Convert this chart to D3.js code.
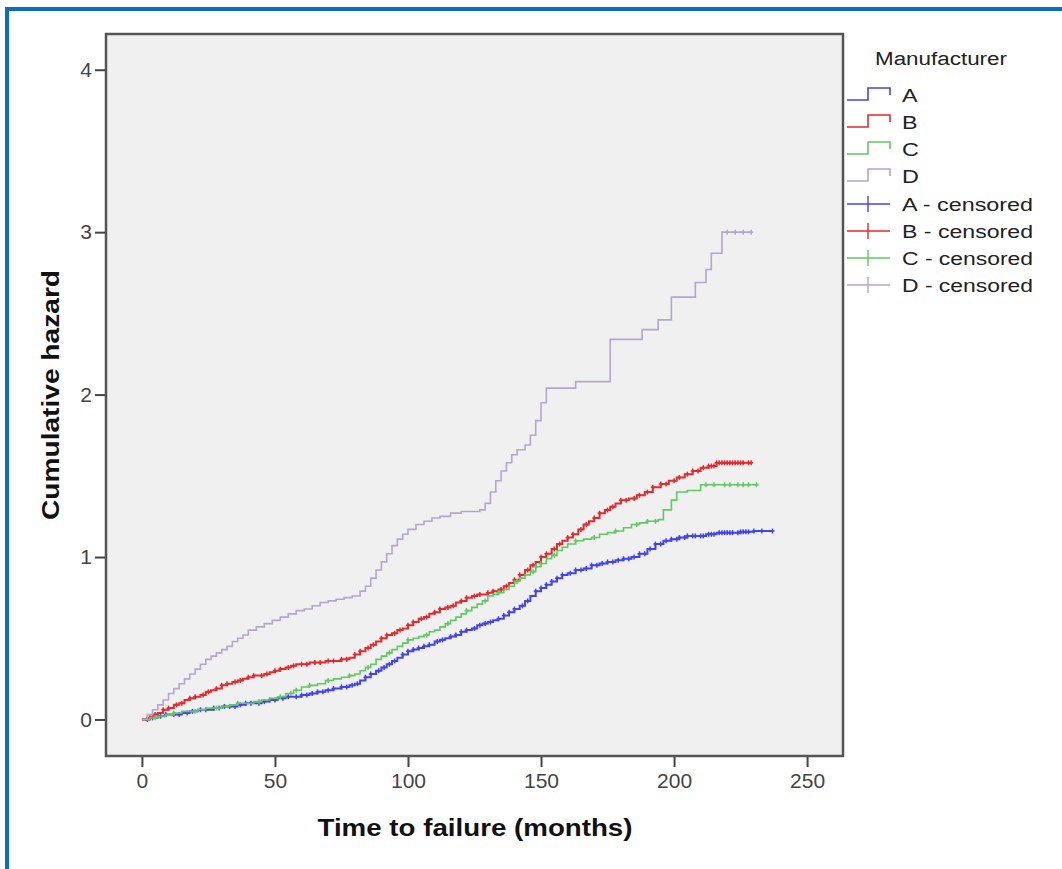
<!DOCTYPE html>
<html>
<head>
<meta charset="utf-8">
<script src="https://cdn.jsdelivr.net/npm/d3@7"></script>
<style>
  body { margin: 0; background: #fff; }
  svg { display: block; font-family: "Liberation Sans", Arial, sans-serif; }
</style>
</head>
<body>
<svg width="1062" height="869"></svg>
<script>
  // manufacturers and colours
  var groups = ["A", "B", "C", "D"];
  var colors = ["#4343ee", "#e32a2e", "#62c862", "#b3a6cf"];

  // step points: time (months) / cumulative hazard
  var timeA = [0,3,6,9,12,15,18,21,24,27,30,33,36,39,42,45,48,51,54,57,60,63,66,69,72,75,78,80,82,84,86,88,90,92,94,96,98,100,102,104,106,108,110,112,114,116,118,120,122,124,126,128,130,132,134,136,138,140,142,144,146,148,150,152,154,156,158,160,163,166,169,172,175,178,181,184,187,190,193,196,199,202,205,208,212,216,220,225,230,237];
  var hazA = [0,0.01,0.02,0.03,0.03,0.04,0.05,0.06,0.06,0.07,0.08,0.08,0.09,0.10,0.10,0.11,0.12,0.13,0.14,0.14,0.15,0.16,0.17,0.18,0.19,0.20,0.21,0.22,0.24,0.26,0.28,0.30,0.32,0.34,0.36,0.38,0.40,0.42,0.43,0.44,0.45,0.46,0.48,0.49,0.50,0.51,0.52,0.54,0.55,0.56,0.58,0.59,0.60,0.61,0.62,0.64,0.66,0.68,0.70,0.73,0.76,0.79,0.81,0.83,0.85,0.87,0.89,0.90,0.92,0.93,0.95,0.96,0.97,0.98,0.99,1.00,1.02,1.05,1.08,1.10,1.11,1.12,1.13,1.13,1.14,1.15,1.15,1.155,1.16,1.16];

  var timeB = [0,2,4,6,8,10,12,14,16,18,20,22,24,26,28,30,32,34,36,38,40,42,44,46,48,50,52,54,56,58,60,63,66,69,72,75,78,80,82,84,86,88,90,92,94,96,98,100,102,104,106,108,110,112,114,116,118,120,122,124,126,128,130,132,134,136,138,140,142,144,146,148,150,152,154,156,158,160,162,164,166,168,170,172,174,176,178,180,183,186,189,192,195,198,201,204,207,210,213,216,229];
  var hazB = [0,0.01,0.03,0.04,0.06,0.07,0.09,0.10,0.12,0.13,0.14,0.15,0.17,0.18,0.19,0.21,0.22,0.23,0.24,0.25,0.26,0.27,0.27,0.28,0.29,0.30,0.31,0.32,0.33,0.34,0.34,0.35,0.35,0.36,0.36,0.37,0.38,0.40,0.42,0.44,0.46,0.48,0.50,0.52,0.53,0.55,0.56,0.58,0.60,0.62,0.63,0.65,0.66,0.68,0.69,0.70,0.72,0.73,0.75,0.76,0.77,0.77,0.78,0.79,0.80,0.82,0.84,0.86,0.89,0.92,0.95,0.97,1.00,1.02,1.05,1.08,1.10,1.12,1.14,1.17,1.20,1.22,1.24,1.27,1.29,1.31,1.33,1.35,1.36,1.38,1.40,1.43,1.45,1.47,1.49,1.51,1.53,1.55,1.56,1.58,1.58];

  var timeC = [0,3,6,9,12,15,18,21,24,27,30,33,36,39,42,45,48,51,54,57,60,63,66,69,72,75,78,80,82,84,86,88,90,92,94,96,98,100,102,104,106,108,110,112,114,116,118,120,122,124,126,128,130,132,134,136,138,140,142,144,146,148,150,152,154,156,158,160,163,166,169,172,175,178,181,184,187,190,194,196,199,201,205,210,231];
  var hazC = [0,0.01,0.02,0.03,0.04,0.05,0.05,0.06,0.07,0.07,0.08,0.09,0.10,0.10,0.11,0.12,0.13,0.14,0.16,0.18,0.20,0.21,0.22,0.24,0.25,0.26,0.27,0.28,0.30,0.32,0.34,0.37,0.39,0.41,0.43,0.45,0.47,0.49,0.50,0.51,0.52,0.54,0.55,0.57,0.59,0.61,0.63,0.65,0.67,0.69,0.71,0.73,0.76,0.77,0.78,0.80,0.82,0.85,0.87,0.89,0.91,0.94,0.96,0.99,1.01,1.04,1.06,1.08,1.10,1.11,1.12,1.14,1.15,1.16,1.18,1.20,1.21,1.22,1.23,1.29,1.35,1.40,1.41,1.445,1.445];

  var timeD = [0,2,4,6,8,10,12,14,16,18,20,22,24,26,28,30,32,34,36,38,40,43,46,49,52,55,58,61,64,67,70,73,76,79,82,84,86,88,90,92,94,96,98,100,103,106,109,112,116,120,127,129,131,133,135,137,139,141,144,146,148,150,152,163,176,188,194,199,208,212,214,218,229];
  var hazD = [0,0.03,0.06,0.09,0.12,0.16,0.19,0.22,0.25,0.28,0.31,0.34,0.37,0.39,0.41,0.43,0.45,0.48,0.50,0.52,0.55,0.57,0.59,0.61,0.63,0.65,0.67,0.68,0.70,0.72,0.73,0.74,0.75,0.76,0.79,0.82,0.87,0.92,0.97,1.02,1.07,1.11,1.14,1.17,1.20,1.22,1.24,1.25,1.27,1.28,1.29,1.33,1.40,1.47,1.53,1.58,1.63,1.66,1.69,1.75,1.84,1.95,2.04,2.08,2.34,2.40,2.46,2.60,2.69,2.77,2.87,3.00,3.00];

  // censored times
  var censA = [2,4,7,9,12,14,17,19,22,24,27,29,31,33,35,37,39,41,44,46,48,50,53,55,58,60,62,64,66,68,70,72,75,77,79,81,84,86,89,91,93,95,98,100,102,104,106,108,111,113,116,118,120,122,125,127,129,131,134,136,138,140,143,145,148,150,152,154,156,158,161,163,165,167,169,171,173,175,177,179,181,183,185,187,189,191,193,195,197,199,201,202,204,205,207,208,210,211,213,214,215,217,218,219,220,221,222,224,225,226,227,228,230,233,237];
  var censB = [3,5,8,10,13,15,18,20,23,25,28,30,32,35,37,40,42,45,47,50,52,55,57,60,62,65,67,70,72,75,77,80,82,85,87,90,92,95,97,100,102,105,107,110,112,115,117,120,122,125,127,130,132,135,137,140,142,145,147,150,152,155,157,160,162,165,167,170,172,175,177,180,182,185,187,190,192,195,197,200,202,205,207,209,211,213,214,215,216,217,218,219,220,221,222,223,224,225,226,228,229];
  var censC = [5,12,20,28,36,44,52,56,58,63,70,78,85,93,100,107,115,122,129,134,141,147,148,150,155,163,170,178,186,190,193,212,215,219,221,224,226,228,231];
  var censD = [220,223,226,229];

  var xTicks = [0, 50, 100, 150, 200, 250];
  var yTicks = [0, 1, 2, 3, 4];

  var series = [
    { key: "A", t: timeA, h: hazA, cens: censA, w: 2 },
    { key: "B", t: timeB, h: hazB, cens: censB, w: 2 },
    { key: "C", t: timeC, h: hazC, cens: censC, w: 1.6 },
    { key: "D", t: timeD, h: hazD, cens: censD, w: 1.6 }
  ];

  var svg = d3.select("svg");
  var box = { left: 106, top: 34, right: 843, bottom: 756 };

  // blue frame of the screenshot
  svg.append("line").attr("x1", 5).attr("x2", 1062).attr("y1", 9).attr("y2", 9)
    .attr("stroke", "#0a6fc4").attr("stroke-width", 4);
  svg.append("line").attr("x1", 7).attr("x2", 7).attr("y1", 7).attr("y2", 869)
    .attr("stroke", "#0a6fc4").attr("stroke-width", 4);

  var x = d3.scaleLinear().domain([-13.5, 263.5]).range([box.left, box.right]);
  var y = d3.scaleLinear().domain([-0.225, 4.22]).range([box.bottom, box.top]);
  var color = d3.scaleOrdinal().domain(groups).range(colors);

  svg.append("rect")
    .attr("x", box.left).attr("y", box.top)
    .attr("width", box.right - box.left).attr("height", box.bottom - box.top)
    .attr("fill", "#f0f0f0").attr("stroke", "#555").attr("stroke-width", 2.5);

  var xAxis = svg.append("g")
    .attr("transform", "translate(0," + (box.bottom + 1) + ")")
    .call(d3.axisBottom(x).tickValues(xTicks).tickSize(10).tickPadding(6));
  var yAxis = svg.append("g")
    .attr("transform", "translate(" + (box.left - 1) + ",0)")
    .call(d3.axisLeft(y).tickValues(yTicks).tickFormat(d3.format("d")).tickSize(10).tickPadding(3));

  [xAxis, yAxis].forEach(function(a) {
    a.select(".domain").remove();
    a.selectAll(".tick line").attr("stroke", "#444").attr("stroke-width", 2);
    a.selectAll(".tick text").attr("fill", "#444").attr("font-size", "21px")
      .attr("font-family", "'Liberation Sans', Arial, sans-serif");
  });

  svg.append("text")
    .attr("x", 475).attr("y", 836)
    .attr("text-anchor", "middle").attr("font-weight", "bold").attr("font-size", "24px")
    .attr("fill", "#111")
    .attr("textLength", 315).attr("lengthAdjust", "spacingAndGlyphs")
    .text("Time to failure (months)");

  svg.append("text")
    .attr("transform", "translate(59,395) rotate(-90)")
    .attr("text-anchor", "middle").attr("font-weight", "bold").attr("font-size", "24px")
    .attr("fill", "#111")
    .attr("textLength", 250).attr("lengthAdjust", "spacingAndGlyphs")
    .text("Cumulative hazard");

  var line = d3.line()
    .curve(d3.curveStepAfter)
    .x(function(d) { return x(d[0]); })
    .y(function(d) { return y(d[1]); });

  function hazardAt(s, t) {
    var i = d3.bisectRight(s.t, t) - 1;
    return s.h[Math.max(0, i)];
  }

  var plot = svg.append("g");

  series.forEach(function(s) {
    var pts = s.t.map(function(t, i) { return [t, s.h[i]]; });
    plot.append("path")
      .attr("d", line(pts))
      .attr("fill", "none")
      .attr("stroke", color(s.key))
      .attr("stroke-width", s.w);

    var marks = plot.append("g").attr("stroke", color(s.key)).attr("stroke-width", 1.5);
    s.cens.forEach(function(t) {
      var cx = x(t), cy = y(hazardAt(s, t));
      marks.append("line").attr("x1", cx - 2).attr("x2", cx + 2).attr("y1", cy).attr("y2", cy);
      marks.append("line").attr("x1", cx).attr("x2", cx).attr("y1", cy - 2.5).attr("y2", cy + 2.5);
    });
  });

  // legend
  var legend = svg.append("g").attr("font-size", "18px").attr("fill", "#222");
  legend.append("text").attr("x", 875).attr("y", 65).attr("fill", "#222")
    .attr("textLength", 132).attr("lengthAdjust", "spacingAndGlyphs")
    .text("Manufacturer");

  var rows = groups.map(function(g) { return { key: g, label: g, cens: false }; })
    .concat(groups.map(function(g) { return { key: g, label: g + " - censored", cens: true }; }));

  rows.forEach(function(r, i) {
    var cy = 96 + i * 27;
    var c = color(r.key);
    if (!r.cens) {
      legend.append("path")
        .attr("d", "M847," + (cy + 4) + "H868V" + (cy - 8) + "H890V" + (cy - 1))
        .attr("fill", "none").attr("stroke", c).attr("stroke-width", 1.6);
    } else {
      legend.append("line").attr("x1", 847).attr("x2", 890).attr("y1", cy).attr("y2", cy)
        .attr("stroke", c).attr("stroke-width", 1.4);
      legend.append("line").attr("x1", 868).attr("x2", 868).attr("y1", cy - 8).attr("y2", cy + 8)
        .attr("stroke", c).attr("stroke-width", 1.4);
    }
    var t = legend.append("text").attr("x", 902).attr("y", cy + 6.5).attr("fill", "#222").text(r.label);
    if (r.cens) t.attr("textLength", 131).attr("lengthAdjust", "spacingAndGlyphs");
    else t.attr("transform", "translate(902," + (cy + 6.5) + ") scale(1.3,1) translate(-902," + (-(cy + 6.5)) + ")");
  });
</script>
</body>
</html>
